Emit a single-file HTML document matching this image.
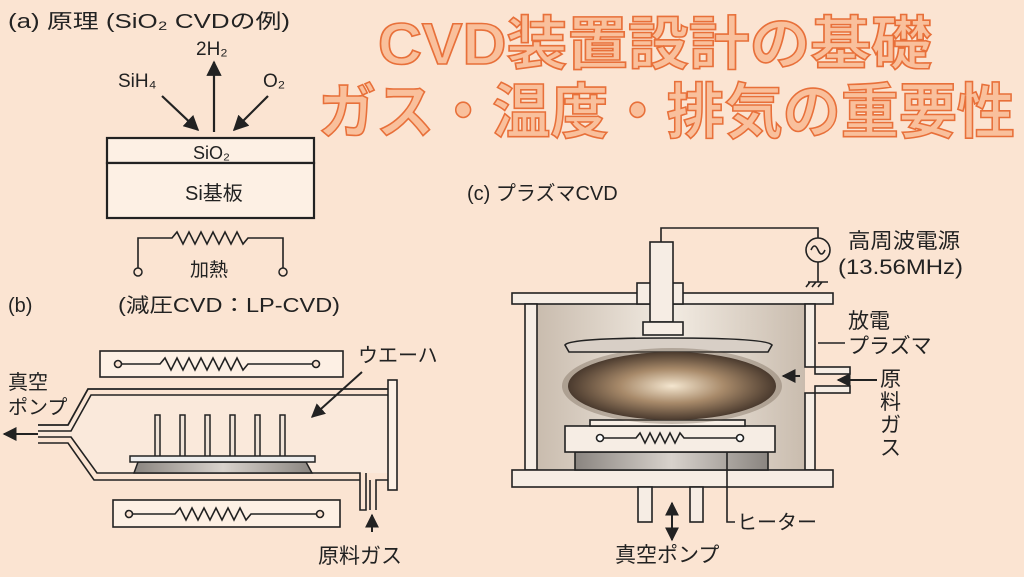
<!DOCTYPE html>
<html><head><meta charset="utf-8"><style>
html,body{margin:0;padding:0;background:#fbe4d2;}
svg{display:block;}
text{font-family:"Liberation Sans","Noto Sans CJK JP",sans-serif;fill:#222;}
</style></head><body>
<svg width="1024" height="577" viewBox="0 0 1024 577" xmlns="http://www.w3.org/2000/svg">
<defs>
<radialGradient id="pl" cx="50%" cy="50%" r="50%">
<stop offset="0" stop-color="#f4e6cf"/><stop offset="0.5" stop-color="#a88a6a"/><stop offset="1" stop-color="#4a3a2e"/>
</radialGradient>
<linearGradient id="ch" x1="0" x2="1"><stop offset="0" stop-color="#c9bcae"/><stop offset="0.5" stop-color="#f2ebe2"/><stop offset="1" stop-color="#c9bcae"/></linearGradient>
<linearGradient id="gr" x1="0" x2="1"><stop offset="0" stop-color="#8a8580"/><stop offset="0.5" stop-color="#d8d2cc"/><stop offset="1" stop-color="#8a8580"/></linearGradient>
<marker id="ah" viewBox="0 0 10 10" refX="9" refY="5" markerWidth="7" markerHeight="7" orient="auto"><path d="M0,0L10,5L0,10z" fill="#222"/></marker>
</defs>
<rect width="1024" height="577" fill="#fbe4d2"/>

<!-- Title -->
<g font-weight="bold" style="font-family:'Noto Sans CJK JP',sans-serif" stroke="#e8703a" stroke-width="1.6">
<text x="378" y="64" font-size="58" textLength="554" lengthAdjust="spacingAndGlyphs" style="fill:#f9c09c">CVD装置設計の基礎</text>
<text x="318" y="133" font-size="60" textLength="697" lengthAdjust="spacingAndGlyphs" style="fill:#f9c09c">ガス・温度・排気の重要性</text>
</g>

<!-- (a) -->
<text x="8" y="28" font-size="20" textLength="282" lengthAdjust="spacingAndGlyphs">(a) 原理 (SiO₂ CVDの例)</text>
<text x="118" y="87" font-size="19">SiH₄</text>
<text x="196" y="55" font-size="19">2H₂</text>
<text x="263" y="87" font-size="19">O₂</text>
<g stroke="#222" stroke-width="2.2" fill="none">
<line x1="162" y1="96" x2="198" y2="130" marker-end="url(#ah)"/>
<line x1="214" y1="132" x2="214" y2="62" marker-end="url(#ah)"/>
<line x1="268" y1="96" x2="234" y2="130" marker-end="url(#ah)"/>
<rect x="107" y="138" width="207" height="25" fill="#fdf0e4"/>
<rect x="107" y="163" width="207" height="55" fill="#fdf0e4"/>
<path d="M138,268V238H172l5,-6 6,12 6,-12 6,12 6,-12 6,12 6,-12 6,12 6,-12 6,12 6,-12 6,12 5,-6H283V268" stroke-width="1.6"/>
<circle cx="138" cy="272" r="4" stroke-width="1.5" fill="#fbe4d2"/>
<circle cx="283" cy="272" r="4" stroke-width="1.5" fill="#fbe4d2"/>
</g>
<text x="193" y="159" font-size="18">SiO₂</text>
<text x="185" y="200" font-size="20">Si基板</text>
<text x="190" y="276" font-size="19">加熱</text>

<!-- (b) -->
<text x="8" y="312" font-size="20">(b)</text>
<text x="118" y="312" font-size="20" textLength="222" lengthAdjust="spacingAndGlyphs">(減圧CVD：LP-CVD)</text>
<g stroke="#222" stroke-width="1.6" fill="none">
<rect x="100" y="351" width="243" height="26" fill="#fdf0e4"/>
<path d="M122,364H160l5,-6 6,12 6,-12 6,12 6,-12 6,12 6,-12 6,12 6,-12 6,12 6,-12 6,12 6,-12 6,12 5,-6H312"/>
<circle cx="118" cy="364" r="3.5" fill="#fbe4d2"/><circle cx="316" cy="364" r="3.5" fill="#fbe4d2"/>
<rect x="113" y="500" width="227" height="27" fill="#fdf0e4"/>
<path d="M133,514H175l5,-6 6,12 6,-12 6,12 6,-12 6,12 6,-12 6,12 6,-12 6,12 6,-12 6,12 5,-6H316"/>
<circle cx="129" cy="514" r="3.5" fill="#fbe4d2"/><circle cx="320" cy="514" r="3.5" fill="#fbe4d2"/>
<path d="M38,425H70L90,395H388V473H98L72,437H38" fill="#fae9db" stroke="none"/>
<path d="M38,425H68L88,389H388" stroke-width="1.8"/>
<path d="M38,431H71L91,395H388"/>
<path d="M38,437H71L97,473H360V510H366V473"/>
<path d="M38,443H68L94,480H360"/>
<path d="M376,510V480H388"/>
<path d="M370,480V510"/>
<rect x="388" y="380" width="9" height="110" fill="#fdf0e4"/>
</g>
<g stroke="#222" stroke-width="1.5" fill="#f0e4d8">
<rect x="155" y="415" width="5" height="42"/><rect x="180" y="415" width="5" height="42"/>
<rect x="205" y="415" width="5" height="42"/><rect x="230" y="415" width="5" height="42"/>
<rect x="255" y="415" width="5" height="42"/><rect x="280" y="415" width="5" height="42"/>
<path d="M138,462L134,473H312L306,462Z" fill="url(#gr)"/>
<rect x="130" y="456" width="185" height="6" fill="#eee"/>
</g>
<g stroke="#222" stroke-width="2" fill="none">
<line x1="38" y1="434" x2="4" y2="434" marker-end="url(#ah)"/>
<line x1="372" y1="532" x2="372" y2="515" marker-end="url(#ah)"/>
<line x1="362" y1="372" x2="312" y2="417" marker-end="url(#ah)"/>
</g>
<text x="8" y="389" font-size="20">真空</text>
<text x="8" y="414" font-size="20">ポンプ</text>
<text x="358" y="362" font-size="20">ウエーハ</text>
<text x="318" y="563" font-size="21">原料ガス</text>

<!-- (c) -->
<text x="467" y="200" font-size="20">(c) プラズマCVD</text>
<rect x="537" y="304" width="268" height="166" fill="url(#ch)"/>
<g stroke="#222" stroke-width="1.6" fill="#f6ede4">
<rect x="512" y="293" width="321" height="11"/>
<rect x="525" y="304" width="12" height="166"/>
<rect x="805" y="304" width="10" height="63"/>
<rect x="805" y="393" width="10" height="77"/>
<rect x="512" y="470" width="321" height="17"/>
<rect x="638" y="487" width="14" height="35"/>
<rect x="690" y="487" width="13" height="35"/>
<rect x="815" y="367" width="35" height="7"/>
<rect x="815" y="386" width="35" height="7"/>
<rect x="637" y="283" width="46" height="21"/>
<rect x="650" y="242" width="23" height="80"/>
<rect x="643" y="322" width="40" height="13"/>
<path d="M565,345Q570,338 668,338Q767,338 772,345L768,352H569Z" fill="#d8cfc6"/>
<rect x="575" y="452" width="193" height="18" fill="url(#gr)"/>
<rect x="565" y="426" width="210" height="26"/>
<rect x="590" y="420" width="155" height="6"/>
</g>
<ellipse cx="672" cy="386" rx="110" ry="38" fill="#6a5848" opacity="0.35"/>
<ellipse cx="672" cy="386" rx="104" ry="34" fill="url(#pl)"/>
<g stroke="#222" stroke-width="1.6" fill="none">
<path d="M600,438H636l4,-5 5,10 5,-10 5,10 5,-10 5,10 5,-10 5,10 5,-10 4,5H737"/>
<circle cx="600" cy="438" r="3.5" fill="#fff"/><circle cx="740" cy="438" r="3.5" fill="#fff"/>
<path d="M661,242V228H818V238"/>
<circle cx="818" cy="250" r="12" fill="#fbe4d2"/>
<path d="M811,250q3.5,-8 7,0t7,0"/>
<path d="M818,262V282M808,282H828M810,282l-4,5M816,282l-4,5M822,282l-4,5"/>
<path d="M818,343H845"/>
<path d="M727,452V522H735"/>
</g>
<g stroke="#222" stroke-width="2" fill="none">
<line x1="877" y1="380" x2="838" y2="380" marker-end="url(#ah)"/>
<line x1="800" y1="376" x2="783" y2="376" marker-end="url(#ah)"/>
<line x1="672" y1="520" x2="672" y2="503" marker-end="url(#ah)"/>
<line x1="672" y1="520" x2="672" y2="540" marker-end="url(#ah)"/>
</g>
<text x="848" y="248" font-size="21" textLength="112" lengthAdjust="spacingAndGlyphs">高周波電源</text>
<text x="838" y="274" font-size="21" textLength="125" lengthAdjust="spacingAndGlyphs">(13.56MHz)</text>
<text x="848" y="328" font-size="21">放電</text>
<text x="848" y="353" font-size="21">プラズマ</text>
<text x="880" y="386" font-size="21">原</text>
<text x="880" y="409" font-size="21">料</text>
<text x="880" y="432" font-size="21">ガ</text>
<text x="880" y="455" font-size="21">ス</text>
<text x="737" y="529" font-size="20">ヒーター</text>
<text x="615" y="562" font-size="21">真空ポンプ</text>
</svg>
</body></html>
